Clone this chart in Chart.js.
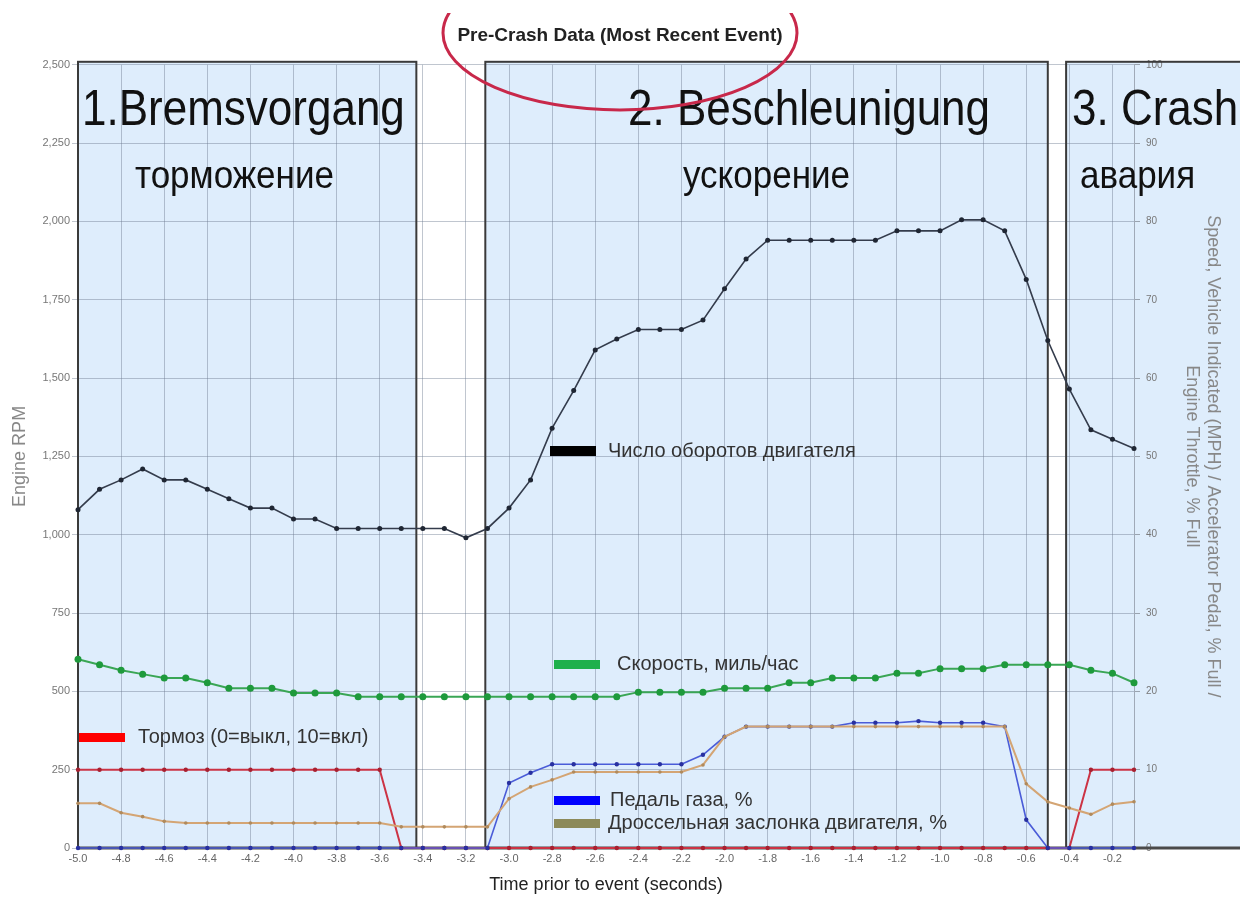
<!DOCTYPE html>
<html>
<head>
<meta charset="utf-8">
<script src="https://cdn.jsdelivr.net/npm/chart.js@4.4.1/dist/chart.umd.min.js"></script>
<style>html,body{margin:0;padding:0;background:#fff}canvas{display:block}</style>
</head>
<body>
<canvas id="c" width="1240" height="900"></canvas>
<script>
// ---- data ----
const times = [-5.0,-4.9,-4.8,-4.7,-4.6,-4.5,-4.4,-4.3,-4.2,-4.1,
               -4.0,-3.9,-3.8,-3.7,-3.6,-3.5,-3.4,-3.3,-3.2,-3.1,
               -3.0,-2.9,-2.8,-2.7,-2.6,-2.5,-2.4,-2.3,-2.2,-2.1,
               -2.0,-1.9,-1.8,-1.7,-1.6,-1.5,-1.4,-1.3,-1.2,-1.1,
               -1.0,-0.9,-0.8,-0.7,-0.6,-0.5,-0.4,-0.3,-0.2,-0.1];
const engineRpm = [1080,1145,1175,1210,1175,1175,1145,1115,1085,1085,
                   1050,1050,1020,1020,1020,1020,1020,1020,990,1020,
                   1085,1175,1340,1460,1590,1625,1655,1655,1655,1685,
                   1785,1880,1940,1940,1940,1940,1940,1940,1970,1970,
                   1970,2005,2005,1970,1815,1620,1465,1335,1305,1275];
const speedMph = [24.1,23.4,22.7,22.2,21.7,21.7,21.1,20.4,20.4,20.4,
                  19.8,19.8,19.8,19.3,19.3,19.3,19.3,19.3,19.3,19.3,
                  19.3,19.3,19.3,19.3,19.3,19.3,19.9,19.9,19.9,19.9,
                  20.4,20.4,20.4,21.1,21.1,21.7,21.7,21.7,22.3,22.3,
                  22.9,22.9,22.9,23.4,23.4,23.4,23.4,22.7,22.3,21.1];
const brakeOnOff = [10,10,10,10,10,10,10,10,10,10,
                    10,10,10,10,10,0,0,0,0,0,
                    0,0,0,0,0,0,0,0,0,0,
                    0,0,0,0,0,0,0,0,0,0,
                    0,0,0,0,0,0,0,10,10,10];
const accelPedal = [0,0,0,0,0,0,0,0,0,0,
                    0,0,0,0,0,0,0,0,0,0,
                    8.3,9.6,10.7,10.7,10.7,10.7,10.7,10.7,10.7,11.9,
                    14.2,15.5,15.5,15.5,15.5,15.5,16.0,16.0,16.0,16.2,
                    16.0,16.0,16.0,15.5,3.6,0,0,0,0,0];
const throttle = [5.7,5.7,4.5,4.0,3.4,3.2,3.2,3.2,3.2,3.2,
                  3.2,3.2,3.2,3.2,3.2,2.7,2.7,2.7,2.7,2.7,
                  6.3,7.8,8.7,9.7,9.7,9.7,9.7,9.7,9.7,10.6,
                  14.2,15.5,15.5,15.5,15.5,15.5,15.5,15.5,15.5,15.5,
                  15.5,15.5,15.5,15.5,8.2,5.9,5.1,4.3,5.6,5.9];
const xTickValues = [-5.0,-4.8,-4.6,-4.4,-4.2,-4.0,-3.8,-3.6,-3.4,-3.2,-3.0,-2.8,-2.6,-2.4,-2.2,-2.0,-1.8,-1.6,-1.4,-1.2,-1.0,-0.8,-0.6,-0.4,-0.2];
const xTickLabels = ['-5.0','-4.8','-4.6','-4.4','-4.2','-4.0','-3.8','-3.6','-3.4','-3.2','-3.0','-2.8','-2.6','-2.4','-2.2','-2.0','-1.8','-1.6','-1.4','-1.2','-1.0','-0.8','-0.6','-0.4','-0.2'];
const yTickLabels = ['0','250','500','750','1,000','1,250','1,500','1,750','2,000','2,250','2,500'];
const y1TickLabels = ['0','10','20','30','40','50','60','70','80','90','100'];

// ---- annotation layout (not data) ----
const phaseBoxes = [{from:-5.0, to:-3.43}, {from:-3.11, to:-0.50}, {from:-0.415, to:null}];
const bigTexts = [
  {text:'1.Bremsvorgang', x:82, y:125, size:44},
  {text:'торможение', x:135, y:188, size:35},
  {text:'2. Beschleunigung', x:628, y:125, size:44},
  {text:'ускорение', x:683, y:188, size:35},
  {text:'3. Crash', x:1072, y:125, size:44},
  {text:'авария', x:1080, y:188, size:35}
];
const seriesNotes = [
  {text:'Число оборотов двигателя', color:'#000000', bar:[550,446,46,10], tx:608, ty:451},
  {text:'Скорость, миль/час', color:'#1fb04c', bar:[554,660,46,9], tx:617, ty:664},
  {text:'Тормоз (0=выкл, 10=вкл)', color:'#ff0000', bar:[79,733,46,9], tx:138, ty:737},
  {text:'Педаль газа, %', color:'#0000ff', bar:[554,796,46,9], tx:610, ty:800},
  {text:'Дроссельная заслонка двигателя, %', color:'#8c8a5a', bar:[554,819,46,9], tx:608, ty:823}
];

const FONT = "'Liberation Sans', Arial, sans-serif";
Chart.defaults.font.family = FONT;

const pts = arr => times.map((t, i) => ({x: t, y: arr[i]}));
const gridColor = 'rgba(105,120,140,0.42)';

const overlay = {
  id: 'overlay',
  beforeDraw(chart) {
    const {ctx, chartArea: a} = chart;
    const x = chart.scales.x;
    ctx.save();
    ctx.fillStyle = '#ffffff';
    ctx.fillRect(0, 0, chart.width, chart.height);
    ctx.fillStyle = '#deedfc';
    for (const b of phaseBoxes) {
      const l = x.getPixelForValue(b.from);
      const r = b.to === null ? chart.width + 20 : x.getPixelForValue(b.to);
      ctx.fillRect(l, a.top - 3, r - l, a.bottom - a.top + 3);
    }
    ctx.restore();
  },
  beforeDatasetsDraw(chart) {
    const {ctx, chartArea: a} = chart;
    const x = chart.scales.x;
    ctx.save();
    ctx.strokeStyle = '#3a3a3a';
    ctx.lineWidth = 2;
    for (const b of phaseBoxes) {
      const l = x.getPixelForValue(b.from);
      const r = b.to === null ? chart.width + 20 : x.getPixelForValue(b.to);
      ctx.strokeRect(l, a.top - 3, r - l, a.bottom - a.top + 3);
    }
    ctx.strokeStyle = '#4a4a4a';
    ctx.lineWidth = 3;
    ctx.beginPath();
    ctx.moveTo(a.left, a.bottom);
    ctx.lineTo(chart.width, a.bottom);
    ctx.stroke();
    ctx.restore();
  },
  afterDatasetsDraw(chart) {
    const {ctx} = chart;
    ctx.save();
    ctx.fillStyle = '#111';
    ctx.textBaseline = 'alphabetic';
    ctx.textAlign = 'left';
    for (const t of bigTexts) {
      ctx.save();
      ctx.translate(t.x, t.y);
      ctx.scale(1, 1.12);
      ctx.font = t.size + 'px ' + FONT;
      ctx.fillText(t.text, 0, 0);
      ctx.restore();
    }
    ctx.textBaseline = 'middle';
    for (const n of seriesNotes) {
      ctx.fillStyle = n.color;
      ctx.fillRect(n.bar[0], n.bar[1], n.bar[2], n.bar[3]);
      ctx.fillStyle = '#333';
      ctx.font = '20px ' + FONT;
      ctx.fillText(n.text, n.tx, n.ty);
    }
    // highlight ellipse around the title
    ctx.save();
    ctx.beginPath();
    ctx.rect(0, 13, chart.width, chart.height);
    ctx.clip();
    ctx.beginPath();
    ctx.ellipse(620, 33, 177, 77, 0, 0, Math.PI * 2);
    ctx.strokeStyle = '#c8284a';
    ctx.lineWidth = 3;
    ctx.stroke();
    ctx.restore();
    ctx.restore();
  }
};

new Chart(document.getElementById('c'), {
  type: 'line',
  data: {
    datasets: [
      {label:'Engine RPM', data: pts(engineRpm), yAxisID:'y', borderColor:'#343c4c', borderWidth:1.6,
       pointRadius:2.5, pointBackgroundColor:'#1f2633', pointBorderWidth:0, tension:0, clip:false},
      {label:'Speed', data: pts(speedMph), yAxisID:'y1', borderColor:'#3aa655', borderWidth:2,
       pointRadius:3.5, pointBackgroundColor:'#1e9a3c', pointBorderWidth:0, tension:0, clip:false},
      {label:'Throttle', data: pts(throttle), yAxisID:'y1', borderColor:'#d4a574', borderWidth:2,
       pointRadius:1.8, pointBackgroundColor:'#b08a5c', pointBorderWidth:0, tension:0, clip:false},
      {label:'Pedal', data: pts(accelPedal), yAxisID:'y1', borderColor:'#4a5cd8', borderWidth:1.6,
       pointRadius:2.2, pointBackgroundColor:'#2830a0', pointBorderWidth:0, tension:0, clip:false},
      {label:'Brake', data: pts(brakeOnOff), yAxisID:'y1', borderColor:'#cc3344', borderWidth:2,
       pointRadius:2.2, pointBackgroundColor:'#a82030', pointBorderWidth:0, tension:0, clip:false}
    ]
  },
  options: {
    responsive: false,
    animation: false,
    devicePixelRatio: 1,
    layout: {padding: 0},
    plugins: {
      legend: {display: false},
      tooltip: {enabled: false},
      title: {display: true, text: 'Pre-Crash Data (Most Recent Event)', color: '#222',
              font: {size: 19, weight: 'bold'}, padding: {top: 24, bottom: 18}}
    },
    scales: {
      x: {
        type: 'linear', min: -5.0, max: -0.1,
        afterBuildTicks: s => { s.ticks = xTickValues.map(v => ({value: v})); },
        ticks: {callback: (v, i) => xTickLabels[i], color: '#666', font: {size: 11}, padding: 4, maxRotation: 0, autoSkip: false},
        grid: {color: gridColor, drawTicks: false},
        border: {display: false},
        title: {display: true, text: 'Time prior to event (seconds)', color: '#222', font: {size: 18}, padding: {top: 0, bottom: 4}},
        afterFit: s => { s.height = 52; }
      },
      y: {
        position: 'left', min: 0, max: 2500,
        ticks: {stepSize: 250, callback: (v, i) => yTickLabels[i], color: '#777', font: {size: 11}, padding: 2},
        grid: {color: gridColor, tickLength: 6},
        border: {display: false},
        title: {display: true, text: 'Engine RPM', color: '#888', font: {size: 18}, padding: {top: 9, bottom: 0}},
        afterFit: s => { s.width = 78; }
      },
      y1: {
        position: 'right', min: 0, max: 100,
        ticks: {stepSize: 10, callback: (v, i) => y1TickLabels[i], color: '#777', font: {size: 10}, padding: 6},
        grid: {drawOnChartArea: false, color: '#9aa4b0', tickLength: 6},
        border: {display: true, color: '#a0aab8'},
        title: {display: true,
                text: ['Speed, Vehicle Indicated (MPH) / Accelerator Pedal, % Full /', 'Engine Throttle, % Full'],
                color: '#888', font: {size: 18}, padding: {top: 16, bottom: 0}},
        afterFit: s => { s.width = 106; }
      }
    }
  },
  plugins: [overlay]
});
</script>
</body>
</html>
